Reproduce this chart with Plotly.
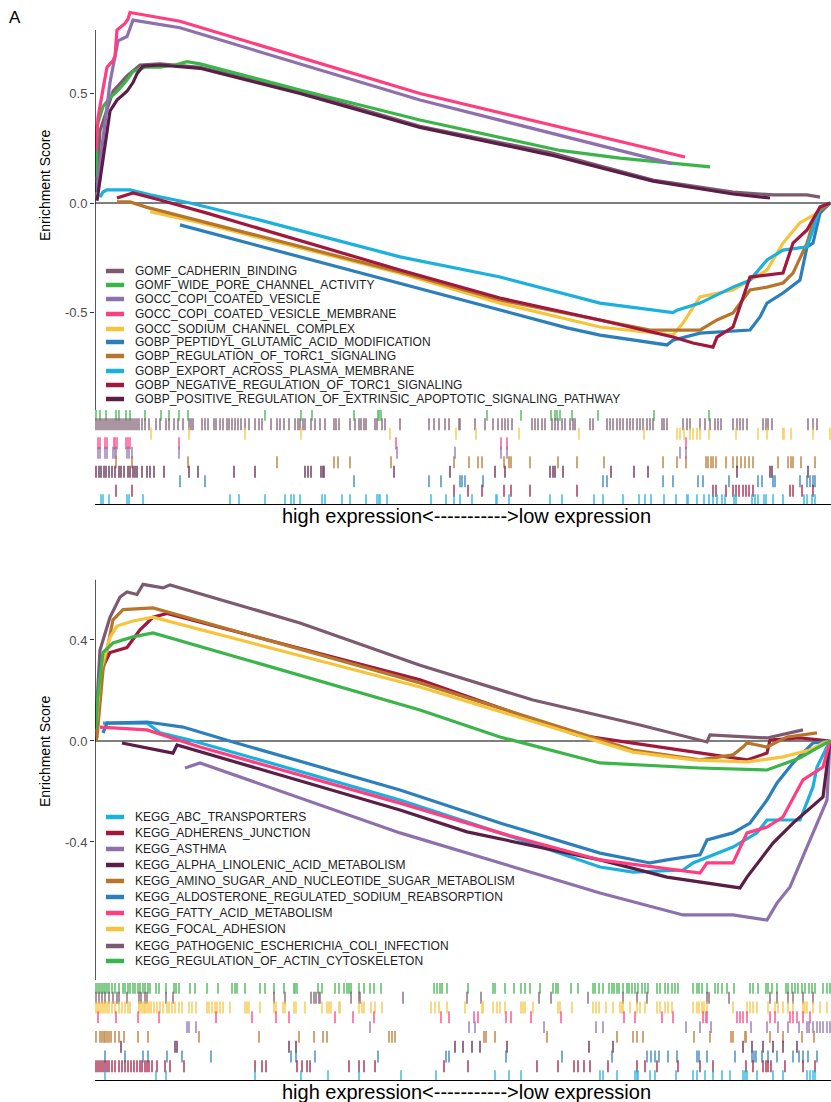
import plotly.graph_objects as go

# ---------------- DATA (rank position in ranked gene list, enrichment score) ----------------
# Panel 1 : GO gene sets (legend order)
go_names = ["GOMF_CADHERIN_BINDING", "GOMF_WIDE_PORE_CHANNEL_ACTIVITY", "GOCC_COPI_COATED_VESICLE",
            "GOCC_COPI_COATED_VESICLE_MEMBRANE", "GOCC_SODIUM_CHANNEL_COMPLEX",
            "GOBP_PEPTIDYL_GLUTAMIC_ACID_MODIFICATION", "GOBP_REGULATION_OF_TORC1_SIGNALING",
            "GOBP_EXPORT_ACROSS_PLASMA_MEMBRANE", "GOBP_NEGATIVE_REGULATION_OF_TORC1_SIGNALING",
            "GOBP_POSITIVE_REGULATION_OF_EXTRINSIC_APOPTOTIC_SIGNALING_PATHWAY"]

cadherin_rank = [1, 2, 5, 18, 32, 45, 65, 105, 205, 325, 455, 558, 638, 678, 712, 725]
cadherin_es = [0.05, 0.10, 0.33, 0.51, 0.58, 0.63, 0.635, 0.62, 0.51, 0.35, 0.23, 0.105, 0.05, 0.037, 0.037, 0.027]
widepore_rank = [1, 2, 8, 15, 22, 30, 38, 50, 65, 80, 92, 105, 205, 325, 465, 525, 615]
widepore_es = [0.12, 0.35, 0.44, 0.48, 0.51, 0.55, 0.60, 0.62, 0.62, 0.63, 0.645, 0.635, 0.516, 0.379, 0.24, 0.205, 0.165]
copi_rank = [1, 3, 15, 23, 32, 38, 85, 325, 577]
copi_es = [0.05, 0.11, 0.55, 0.74, 0.76, 0.835, 0.80, 0.47, 0.18]
copimem_rank = [1, 3, 8, 12, 18, 20, 22, 25, 30, 33, 35, 85, 325, 590]
copimem_es = [0.24, 0.39, 0.52, 0.62, 0.65, 0.67, 0.79, 0.80, 0.82, 0.84, 0.87, 0.83, 0.50, 0.21]
sodium_rank = [55, 105, 305, 405, 505, 578, 588, 605, 638, 672, 688, 705, 722, 735]
sodium_es = [-0.04, -0.09, -0.32, -0.457, -0.566, -0.603, -0.548, -0.429, -0.397, -0.306, -0.183, -0.09, -0.046, 0.0]
peptidyl_rank = [85, 168, 305, 405, 472, 505, 572, 578, 605, 655, 665, 672, 688, 705, 712, 718, 725, 735]
peptidyl_es = [-0.10, -0.20, -0.365, -0.489, -0.57, -0.603, -0.648, -0.626, -0.594, -0.58, -0.52, -0.457, -0.411, -0.352, -0.20, -0.183, -0.046, 0.0]
torc1_rank = [22, 35, 52, 305, 405, 505, 555, 605, 622, 638, 655, 672, 688, 698, 712, 718, 722, 735]
torc1_es = [0.005, 0.005, -0.02, -0.315, -0.443, -0.534, -0.58, -0.58, -0.534, -0.502, -0.397, -0.384, -0.365, -0.32, -0.183, -0.09, -0.046, 0.0]
export_rank = [5, 8, 12, 35, 55, 95, 165, 305, 405, 505, 578, 582, 605, 625, 638, 655, 672, 688, 712, 718, 725, 735]
export_es = [0.027, 0.05, 0.06, 0.06, 0.037, 0.0, -0.078, -0.246, -0.338, -0.457, -0.50, -0.489, -0.457, -0.411, -0.384, -0.352, -0.26, -0.215, -0.20, -0.123, -0.018, 0.0]
negtorc1_rank = [22, 38, 65, 112, 305, 405, 505, 578, 598, 618, 622, 638, 655, 688, 698, 712, 725, 735]
negtorc1_es = [0.023, 0.046, 0.014, -0.046, -0.306, -0.434, -0.534, -0.612, -0.639, -0.658, -0.612, -0.566, -0.338, -0.32, -0.183, -0.123, -0.018, 0.0]
posapop_rank = [2, 5, 15, 22, 32, 38, 42, 48, 65, 105, 205, 325, 455, 558, 638, 675]
posapop_es = [0.01, 0.10, 0.42, 0.47, 0.51, 0.55, 0.59, 0.625, 0.63, 0.615, 0.50, 0.345, 0.22, 0.10, 0.041, 0.023]

cadherin_hits = [0, 2, 4, 6, 8, 10, 12, 14, 16, 18, 20, 22, 24, 26, 28, 30, 32, 34, 36, 38, 40, 42, 44, 47, 50, 54, 61, 65, 71, 74, 79, 83, 88, 94, 96, 98, 107, 110, 113, 119, 121, 125, 128, 132, 134, 137, 140, 143, 146, 150, 154, 160, 164, 167, 176, 182, 185, 189, 194, 200, 203, 205, 208, 210, 216, 220, 225, 230, 239, 241, 244, 255, 260, 264, 266, 269, 271, 280, 282, 287, 290, 305, 334, 339, 344, 350, 354, 364, 365, 380, 390, 398, 403, 407, 410, 413, 417, 437, 440, 443, 447, 450, 457, 460, 463, 467, 470, 475, 478, 480, 495, 498, 512, 515, 518, 522, 525, 528, 532, 535, 538, 542, 545, 548, 552, 555, 558, 567, 569, 572, 588, 592, 595, 605, 610, 615, 620, 623, 626, 638, 642, 645, 648, 652, 668, 671, 673, 677, 713, 718, 722]
widepore_hits = [1, 5, 11, 21, 24, 31, 35, 50, 66, 74, 84, 93, 170, 206, 217, 259, 283, 284, 286, 392, 426, 456, 460, 462, 465, 477, 503, 559, 614]
copi_hits = [3, 5, 10, 12, 18, 20, 21, 32, 34, 37, 84, 302, 360, 406, 412, 585, 591]
copimem_hits = [3, 5, 10, 12, 19, 20, 22, 31, 33, 35, 84, 301, 406, 412, 591]
sodium_hits = [56, 94, 150, 206, 295, 361, 381, 424, 484, 549, 582, 585, 589, 595, 598, 602, 605, 614, 641, 663, 672, 688, 689, 696, 718, 735]
peptidyl_hits = [85, 110, 259, 334, 346, 365, 367, 370, 388, 508, 512, 568, 578, 603, 608, 634, 663, 667, 678, 680, 705, 712, 715, 718, 720]
torc1_hits = [21, 37, 93, 182, 239, 243, 255, 296, 359, 374, 383, 387, 409, 414, 416, 435, 463, 482, 509, 568, 582, 591, 611, 613, 616, 618, 621, 631, 638, 642, 646, 650, 654, 658, 683, 693, 696, 698, 706, 720]
export_hits = [6, 8, 14, 32, 34, 48, 135, 144, 170, 190, 196, 199, 205, 227, 230, 247, 255, 271, 282, 284, 285, 292, 336, 351, 359, 365, 377, 401, 402, 414, 455, 467, 499, 508, 528, 544, 550, 556, 569, 581, 592, 593, 602, 609, 614, 618, 622, 627, 630, 639, 641, 657, 660, 663, 669, 671, 678, 688, 709, 712, 717, 720]
negtorc1_hits = [21, 37, 359, 373, 387, 409, 416, 435, 482, 618, 621, 631, 638, 641, 644, 648, 651, 654, 658, 695, 698, 707, 718]
posapop_hits = [1, 4, 6, 9, 11, 14, 17, 20, 24, 26, 29, 33, 35, 38, 40, 42, 47, 52, 55, 59, 69, 94, 103, 139, 160, 210, 213, 216, 226, 228, 229, 299, 355, 400, 410, 455, 458, 460, 468, 516, 539, 553, 642, 675, 677, 713]

# Panel 2 : KEGG gene sets (legend order)
kegg_names = ["KEGG_ABC_TRANSPORTERS", "KEGG_ADHERENS_JUNCTION", "KEGG_ASTHMA",
              "KEGG_ALPHA_LINOLENIC_ACID_METABOLISM", "KEGG_AMINO_SUGAR_AND_NUCLEOTIDE_SUGAR_METABOLISM",
              "KEGG_ALDOSTERONE_REGULATED_SODIUM_REABSORPTION", "KEGG_FATTY_ACID_METABOLISM",
              "KEGG_FOCAL_ADHESION", "KEGG_PATHOGENIC_ESCHERICHIA_COLI_INFECTION",
              "KEGG_REGULATION_OF_ACTIN_CYTOSKELETON"]

abc_rank = [8, 52, 65, 95, 305, 405, 505, 538, 588, 598, 638, 662, 672, 705, 718, 722, 732, 735]
abc_es = [0.071, 0.071, 0.032, 0.004, -0.234, -0.364, -0.499, -0.519, -0.511, -0.483, -0.42, -0.364, -0.313, -0.313, -0.182, -0.103, -0.024, 0.0]
adherens_rank = [1, 5, 15, 32, 45, 58, 72, 325, 482, 605, 652, 672, 675, 705, 735]
adherens_es = [0.05, 0.27, 0.35, 0.37, 0.44, 0.49, 0.505, 0.242, 0.024, -0.048, -0.075, -0.048, 0.004, 0.012, 0.0]
asthma_rank = [90, 105, 305, 505, 588, 638, 672, 682, 695, 712, 732, 735]
asthma_es = [-0.107, -0.087, -0.364, -0.602, -0.689, -0.689, -0.709, -0.642, -0.578, -0.420, -0.234, 0.0]
alpha_rank = [27, 78, 82, 305, 372, 505, 572, 645, 652, 678, 698, 728, 735]
alpha_es = [-0.008, -0.048, -0.016, -0.273, -0.36, -0.471, -0.539, -0.582, -0.539, -0.404, -0.325, -0.222, 0.0]
amino_rank = [1, 2, 8, 18, 28, 58, 325, 538, 605, 638, 648, 652, 672, 692, 722]
amino_es = [0.0, 0.015, 0.28, 0.48, 0.52, 0.527, 0.23, -0.036, -0.075, -0.055, -0.024, -0.008, -0.024, 0.016, 0.032]
aldo_rank = [8, 12, 52, 88, 138, 305, 405, 505, 555, 572, 605, 612, 638, 655, 672, 682, 698, 718, 735]
aldo_es = [0.032, 0.071, 0.075, 0.055, -0.004, -0.194, -0.325, -0.444, -0.483, -0.471, -0.451, -0.392, -0.364, -0.325, -0.234, -0.166, -0.087, -0.008, 0.0]
fatty_rank = [5, 52, 105, 305, 405, 505, 605, 612, 638, 652, 672, 688, 708, 728, 735]
fatty_es = [0.055, 0.044, -0.024, -0.246, -0.364, -0.471, -0.523, -0.483, -0.483, -0.364, -0.341, -0.301, -0.154, -0.103, 0.0]
focal_rank = [1, 5, 15, 22, 38, 58, 325, 538, 598, 652, 688, 715, 728, 735]
focal_es = [0.05, 0.27, 0.41, 0.455, 0.475, 0.49, 0.214, -0.044, -0.075, -0.083, -0.063, -0.036, -0.008, 0.0]
ecoli_rank = [1, 2, 5, 15, 25, 32, 42, 48, 68, 75, 205, 325, 438, 538, 545, 612, 615, 672, 708]
ecoli_es = [0.05, 0.15, 0.36, 0.49, 0.57, 0.59, 0.58, 0.62, 0.606, 0.618, 0.467, 0.30, 0.162, 0.071, 0.063, -0.004, 0.024, 0.012, 0.044]
actin_rank = [1, 2, 8, 18, 38, 58, 325, 405, 505, 605, 672, 705, 722, 735]
actin_es = [0.05, 0.15, 0.35, 0.388, 0.412, 0.428, 0.123, 0.016, -0.087, -0.107, -0.115, -0.067, -0.028, 0.0]

abc_hits = [10, 61, 71, 160, 206, 233, 264, 306, 341, 400, 414, 426, 505, 508, 522, 540, 542, 543, 555, 560, 581, 598, 602, 610, 618, 627, 635, 648, 650, 652, 662, 678, 688, 712, 715, 718, 720]
adherens_hits = [0, 2, 4, 6, 8, 10, 12, 14, 17, 20, 24, 27, 30, 33, 36, 39, 42, 45, 47, 50, 52, 54, 57, 62, 70, 75, 89, 160, 167, 171, 202, 207, 212, 215, 254, 264, 269, 280, 349, 373, 442, 463, 479, 483, 489, 495, 513, 542, 550, 562, 583, 605, 618, 651, 658, 668, 671, 673, 676, 690, 708, 720]
asthma_hits = [92, 94, 101, 275, 374, 380, 449, 501, 508, 591, 605, 616, 656, 672, 683, 693, 704, 712, 714, 718, 722, 725, 728, 732, 735]
alpha_hits = [26, 80, 82, 194, 201, 360, 368, 377, 385, 412, 494, 518, 648, 657, 668, 678, 688, 702]
amino_hits = [1, 5, 7, 9, 10, 12, 14, 16, 20, 24, 29, 43, 53, 104, 164, 204, 219, 228, 232, 294, 297, 300, 389, 391, 400, 452, 522, 538, 542, 548, 599, 615, 636, 638, 650, 651, 675, 688, 707, 719]
aldo_hits = [10, 30, 48, 53, 72, 87, 116, 196, 201, 220, 283, 351, 354, 411, 467, 517, 552, 556, 560, 564, 573, 582, 602, 604, 612, 640, 657, 659, 661, 667, 673, 682, 698, 704, 708, 713, 722]
fatty_hits = [3, 21, 43, 64, 121, 157, 181, 194, 240, 258, 279, 346, 354, 379, 383, 411, 416, 436, 466, 529, 540, 567, 578, 608, 611, 612, 642, 645, 648, 652, 675, 680, 695, 698, 702, 708, 715]
focal_hits = [0, 2, 4, 6, 8, 10, 12, 14, 17, 20, 24, 27, 30, 33, 35, 44, 45, 47, 49, 50, 52, 54, 56, 59, 62, 65, 68, 72, 74, 77, 80, 84, 87, 94, 97, 101, 112, 114, 117, 120, 122, 125, 128, 135, 150, 152, 154, 165, 179, 181, 188, 190, 199, 201, 210, 227, 232, 234, 236, 244, 245, 264, 267, 269, 276, 280, 287, 336, 340, 344, 352, 370, 387, 388, 398, 402, 405, 410, 426, 428, 430, 438, 463, 465, 477, 498, 501, 504, 511, 518, 525, 527, 528, 535, 542, 545, 550, 562, 565, 570, 573, 577, 598, 602, 604, 607, 609, 612, 638, 652, 655, 658, 662, 673, 680, 683, 688, 693, 698, 708, 710, 712, 718, 725, 732]
ecoli_hits = [1, 4, 7, 10, 14, 18, 22, 24, 32, 44, 46, 50, 52, 71, 78, 179, 190, 216, 219, 221, 224, 225, 256, 264, 265, 308, 372, 386, 444, 456, 493, 528, 542, 552, 612, 614, 634, 675, 682, 693, 698, 708, 718]
actin_hits = [0, 2, 4, 6, 8, 10, 12, 14, 17, 20, 24, 28, 30, 33, 35, 38, 40, 43, 45, 48, 50, 53, 55, 61, 64, 71, 79, 81, 84, 95, 100, 112, 123, 137, 140, 142, 150, 165, 170, 179, 189, 199, 200, 202, 223, 227, 240, 244, 249, 252, 254, 256, 264, 269, 275, 279, 286, 339, 342, 345, 347, 352, 373, 398, 400, 410, 419, 426, 430, 435, 445, 458, 461, 463, 476, 483, 498, 500, 504, 508, 514, 517, 519, 522, 524, 528, 532, 534, 537, 540, 543, 547, 550, 553, 562, 565, 570, 573, 577, 580, 583, 598, 602, 604, 607, 612, 620, 623, 627, 632, 639, 655, 658, 663, 671, 673, 677, 682, 691, 693, 697, 700, 703, 707, 710, 714, 717, 720, 728, 732, 735]

y1_ticks = [-0.5, 0.0, 0.5]
y1_ticklabels = ["-0.5", "0.0", "0.5"]
y3_ticks = [-0.4, 0.0, 0.4]
y3_ticklabels = ["-0.4", "0.0", "0.4"]
x_title = "high expression<----------->low expression"

# ---------------- STYLE ----------------
MAUVE, GREEN, LAV, PINK, YEL = "#7D5A6F", "#3BB44A", "#8E70AC", "#FF3D7F", "#F6C43C"
BLUE, BROWN, CYAN, DRED, DPUR = "#2C7FBA", "#B7752B", "#1BB0DE", "#A1183D", "#5B1E46"

go_sets = [
    (go_names[0], MAUVE, cadherin_rank, cadherin_es, cadherin_hits),
    (go_names[1], GREEN, widepore_rank, widepore_es, widepore_hits),
    (go_names[2], LAV, copi_rank, copi_es, copi_hits),
    (go_names[3], PINK, copimem_rank, copimem_es, copimem_hits),
    (go_names[4], YEL, sodium_rank, sodium_es, sodium_hits),
    (go_names[5], BLUE, peptidyl_rank, peptidyl_es, peptidyl_hits),
    (go_names[6], BROWN, torc1_rank, torc1_es, torc1_hits),
    (go_names[7], CYAN, export_rank, export_es, export_hits),
    (go_names[8], DRED, negtorc1_rank, negtorc1_es, negtorc1_hits),
    (go_names[9], DPUR, posapop_rank, posapop_es, posapop_hits),
]
kegg_sets = [
    (kegg_names[0], CYAN, abc_rank, abc_es, abc_hits),
    (kegg_names[1], DRED, adherens_rank, adherens_es, adherens_hits),
    (kegg_names[2], LAV, asthma_rank, asthma_es, asthma_hits),
    (kegg_names[3], DPUR, alpha_rank, alpha_es, alpha_hits),
    (kegg_names[4], BROWN, amino_rank, amino_es, amino_hits),
    (kegg_names[5], BLUE, aldo_rank, aldo_es, aldo_hits),
    (kegg_names[6], PINK, fatty_rank, fatty_es, fatty_hits),
    (kegg_names[7], YEL, focal_rank, focal_es, focal_hits),
    (kegg_names[8], MAUVE, ecoli_rank, ecoli_es, ecoli_hits),
    (kegg_names[9], GREEN, actin_rank, actin_es, actin_hits),
]

W, H = 831, 1102
XMAX = 736
FONT = "Liberation Sans, Arial, Helvetica, sans-serif"


def pyp(py):
    return 1 - py / H


def pxp(px):
    return (px - 95) / XMAX


fig = go.Figure()
shapes, annos = [], []


def add_panel(sets, yes, yrug, legend_rows):
    for name, col, rk, es, hits in sets:
        fig.add_trace(go.Scatter(x=rk, y=es, mode="lines", xaxis="x", yaxis=yes,
                                 line=dict(color=col, width=3.2), showlegend=False, hoverinfo="skip"))
    # rug rows: reverse alphabetical from top
    order = sorted(sets, key=lambda s: s[0], reverse=True)
    for i, (name, col, rk, es, hits) in enumerate(order):
        fig.add_trace(go.Scatter(x=hits, y=[9.5 - i] * len(hits), mode="markers", xaxis="x", yaxis=yrug,
                                 marker=dict(symbol="line-ns", size=8.5, line=dict(color=col, width=1.6)),
                                 opacity=0.8, showlegend=False, hoverinfo="skip"))
    for (name, col, rk, es, hits), py in zip(sets, legend_rows):
        shapes.append(dict(type="line", xref="paper", yref="paper", x0=pxp(106), x1=pxp(124),
                           y0=pyp(py), y1=pyp(py), line=dict(color=col, width=4.5)))
        annos.append(dict(text=name, xref="paper", yref="paper", x=pxp(133), y=pyp(py),
                          xanchor="left", yanchor="middle", showarrow=False,
                          font=dict(size=12, color="#1e1e1e", family=FONT)))


add_panel(go_sets, "y", "y2", [271, 285, 299, 314, 329, 342, 356, 371, 385, 399])
add_panel(kegg_sets, "y3", "y4", [817, 833, 849, 865, 881, 897, 913, 929, 946, 961])

# axis lines / zero lines / rug baselines
for yref, ylo, ytop in [("y", -0.945, 0.79), ("y3", -0.9465, 0.638)]:
    shapes.append(dict(type="line", xref="x", yref=yref, x0=0, x1=0, y0=ylo, y1=ytop,
                       line=dict(color="black", width=1.3)))
    shapes.append(dict(type="line", xref="x", yref=yref, x0=0, x1=XMAX, y0=0, y1=0,
                       line=dict(color="black", width=1.1), layer="below"))
for yref in ["y2", "y4"]:
    shapes.append(dict(type="line", xref="x", yref=yref, x0=0, x1=XMAX, y0=0, y1=0,
                       line=dict(color="black", width=2)))

annos.append(dict(text="A", xref="paper", yref="paper", x=pxp(15), y=pyp(18), xanchor="center",
                  yanchor="middle", showarrow=False, font=dict(size=17, color="black", family=FONT)))
for py in [186, 752]:
    annos.append(dict(text="Enrichment Score", xref="paper", yref="paper", x=pxp(45), y=pyp(py),
                      xanchor="center", yanchor="middle", textangle=-90, showarrow=False,
                      font=dict(size=14, color="black", family=FONT)))
for py in [516, 1092]:
    annos.append(dict(text=x_title, xref="paper", yref="paper",
                      x=pxp(466), y=pyp(py), xanchor="center", yanchor="middle", showarrow=False,
                      font=dict(size=20, color="black", family=FONT)))

yax_common = dict(showgrid=False, zeroline=False, showline=False, ticks="outside", ticklen=4,
                  tickwidth=1, tickcolor="#333333", tickfont=dict(size=13, color="#4D4D4D", family=FONT),
                  anchor="x")
fig.update_layout(
    width=W, height=H, margin=dict(l=95, r=0, t=0, b=0),
    paper_bgcolor="white", plot_bgcolor="rgba(0,0,0,0)",
    xaxis=dict(domain=[0, 1], range=[0, XMAX], visible=False, anchor="y"),
    yaxis=dict(domain=[pyp(410), pyp(5)], range=[-0.945, 0.904], tickvals=y1_ticks,
               ticktext=y1_ticklabels, **yax_common),
    yaxis2=dict(domain=[pyp(505), pyp(410)], range=[0, 10], visible=False, anchor="x"),
    yaxis3=dict(domain=[pyp(980), pyp(570)], range=[-0.9465, 0.677], tickvals=y3_ticks,
                ticktext=y3_ticklabels, **yax_common),
    yaxis4=dict(domain=[pyp(1081), pyp(983)], range=[0, 10], visible=False, anchor="x"),
    shapes=shapes, annotations=annos, showlegend=False,
    font=dict(family=FONT),
)
fig.write_html("out.html", config={"displayModeBar": False},
               post_script="document.body.style.margin='0';document.body.style.overflow='hidden';")
